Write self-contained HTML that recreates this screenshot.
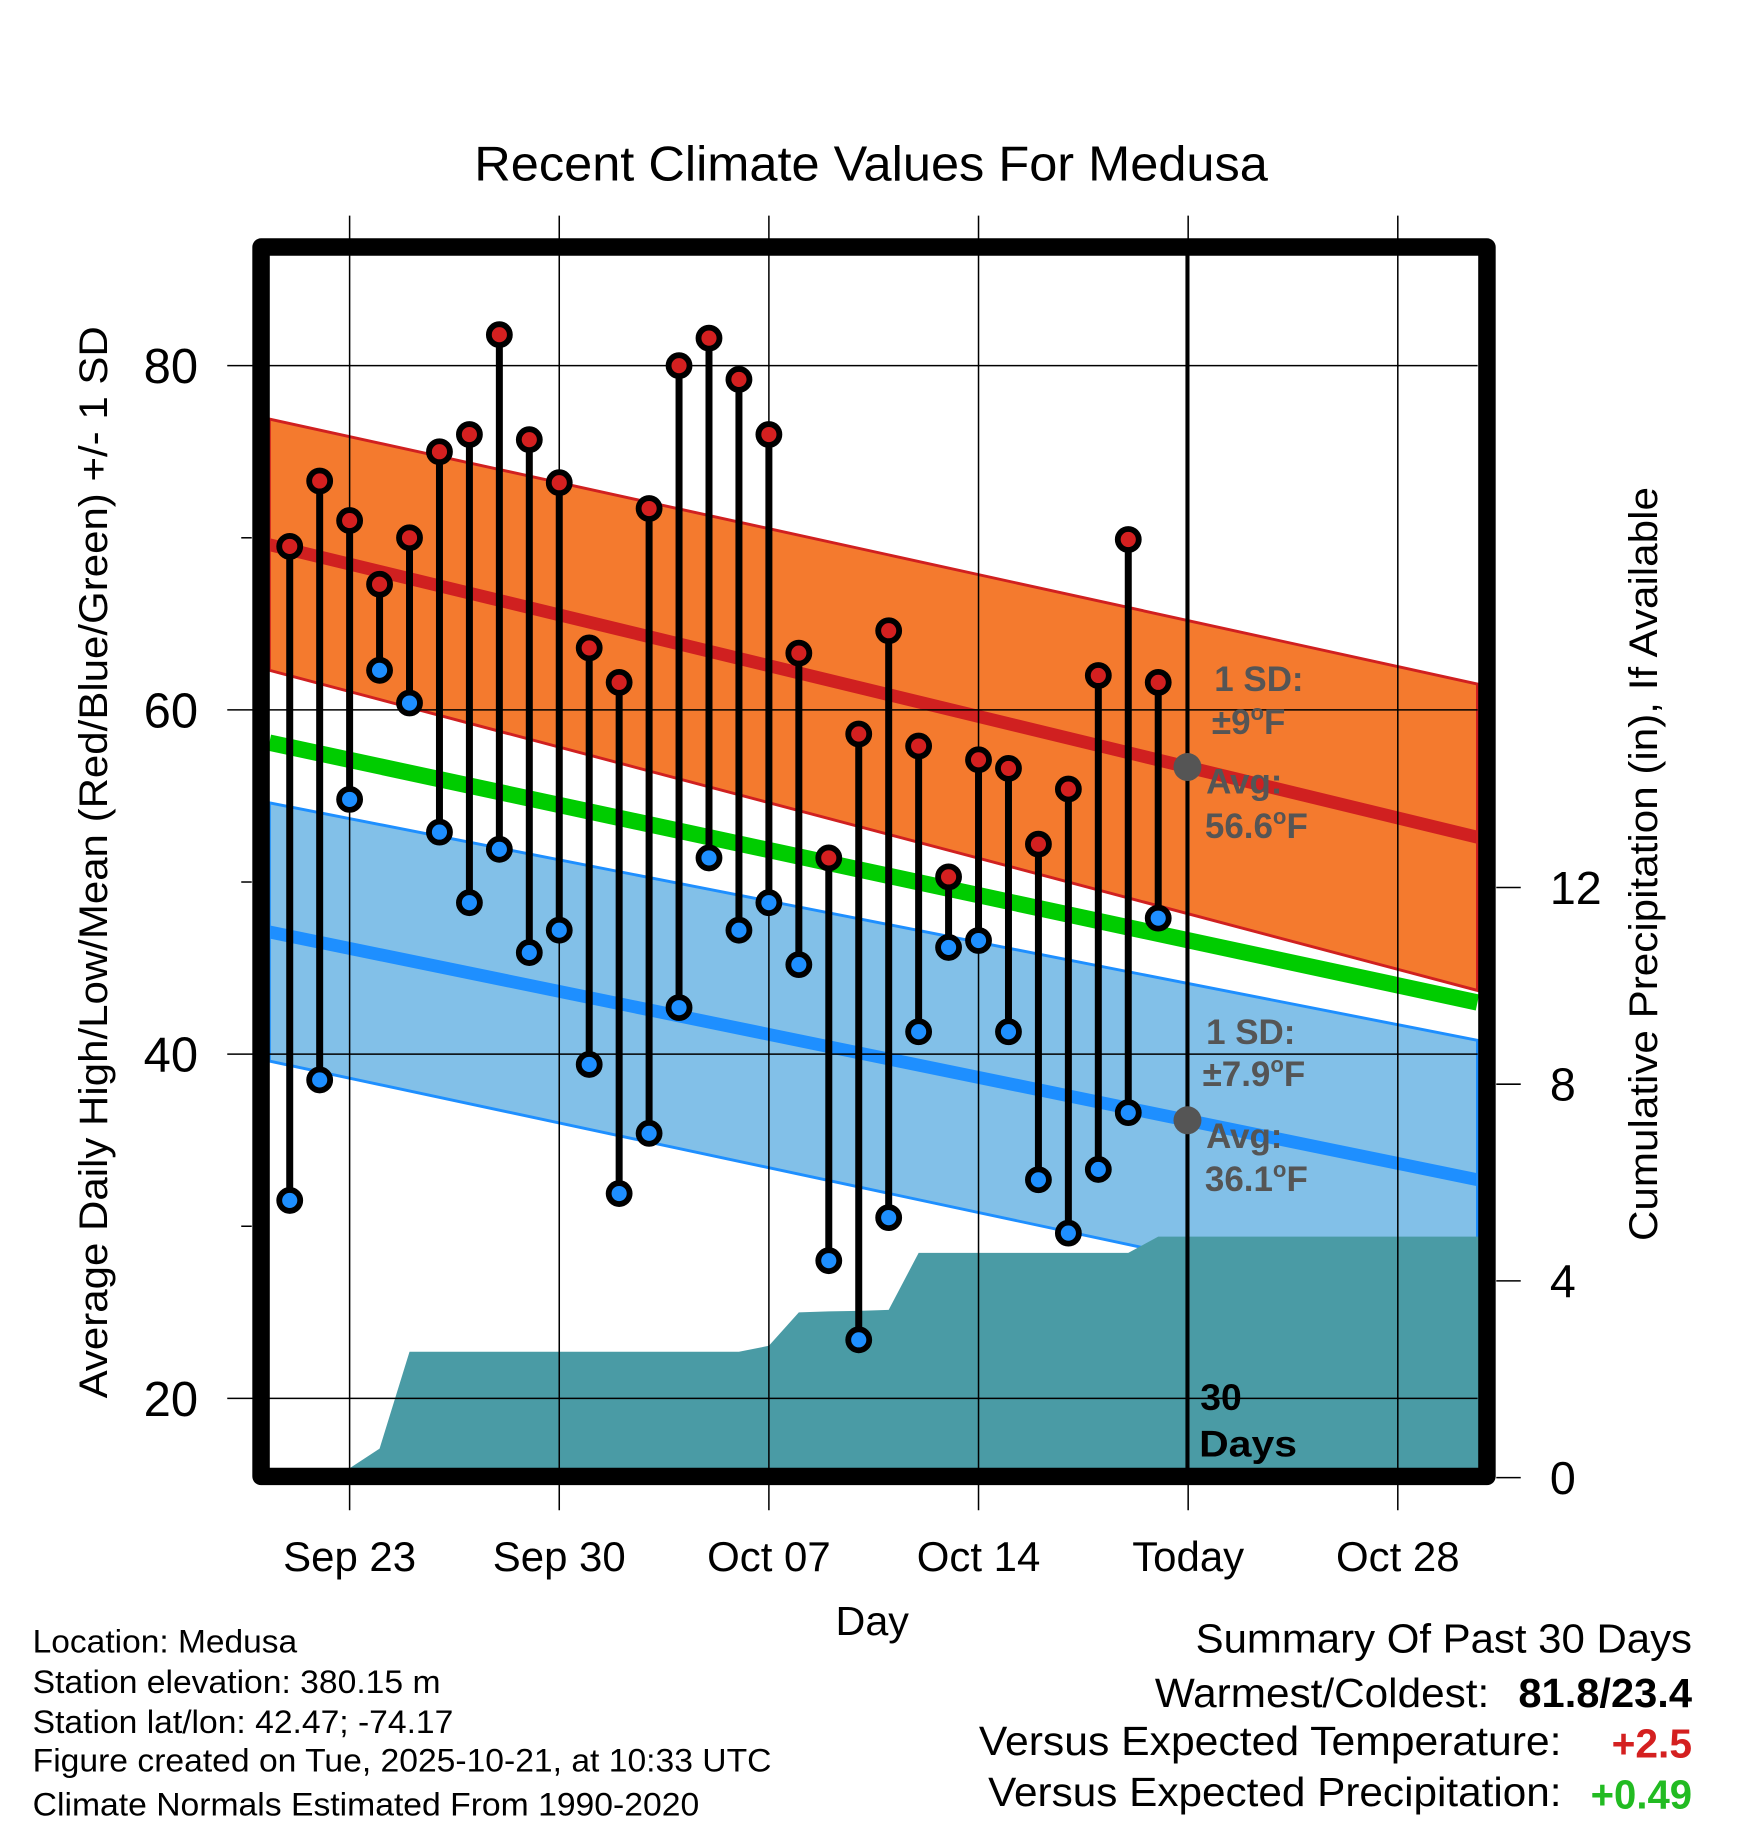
<!DOCTYPE html>
<html><head><meta charset="utf-8"><style>
html,body{margin:0;padding:0;background:#fff;}
svg{display:block;font-family:"Liberation Sans",sans-serif;}
</style></head><body>
<svg id="chart" width="1748" height="1828" viewBox="0 0 1500 1568.7" xmlns="http://www.w3.org/2000/svg">
<g id="g-bands"></g>
<g id="g-grid"></g>
<g id="g-marks"></g>
<g id="g-text"></g>
</svg>
<script>
const dayLabels = ["Sep 23","Sep 30","Oct 07","Oct 14","Today","Oct 28"];
const dayTickIdx = [2,9,16,23,30,37];
const highs = [69.5,73.3,71.0,67.3,70.0,75.0,76.0,81.8,75.7,73.2,63.6,61.6,71.7,80.0,81.6,79.2,76.0,63.3,51.4,58.6,64.6,57.9,50.3,57.1,56.6,52.2,55.4,62.0,69.9,61.6];
const lows = [31.5,38.5,54.8,62.3,60.4,52.9,48.8,51.9,45.9,47.2,39.4,31.9,35.4,42.7,51.4,47.2,48.8,45.2,28.0,23.4,30.5,41.3,46.2,46.6,41.3,32.7,29.6,33.3,36.6,47.9];
const precip = [null,null,0.19,0.59,2.56,2.56,2.56,2.56,2.56,2.56,2.56,2.56,2.56,2.56,2.56,2.56,2.68,3.36,3.38,3.39,3.41,4.57,4.57,4.57,4.57,4.57,4.57,4.57,4.57,4.9];
const normDays = [-0.68,39.66];
const normHigh = [69.6,52.6];
const sdHigh = [7.3,8.9];
const normLow = [47.1,32.7];
const sdLow = [7.5,8.1];
const normMean = [58.1,43.0];
const tempTicks = [20,40,60,80];
const minorTicks = [30,50,70];
const precipTicks = [0,4,8,12];

const NS="http://www.w3.org/2000/svg";
const L=231,R=1268,T=219,B=1260;
const x=d=>248.6+d*25.7;
const y=v=>1200-(v-20)*14.77;
const yp=p=>1268-p*42.2;
function el(tag,attrs,parent,text){const e=document.createElementNS(NS,tag);for(const k in attrs)e.setAttribute(k,attrs[k]);if(text!==undefined)e.textContent=text;document.getElementById(parent).appendChild(e);return e;}
function lerp(a,t){return a[0]+(a[1]-a[0])*t;}
const tAt=d=>(d-normDays[0])/(normDays[1]-normDays[0]);

function band(norm,sd,fill,edge,name){
  const d0=normDays[0],d1=normDays[1];
  const p=[[x(d0),y(norm[0]+sd[0])],[x(d1),y(norm[1]+sd[1])],[x(d1),y(norm[1]-sd[1])],[x(d0),y(norm[0]-sd[0])]];
  let b=el("polygon",{points:p.map(q=>q.join(",")).join(" "),fill:fill,stroke:edge,"stroke-width":2.5},"g-bands");
  
  
}
band(normHigh,sdHigh,"#f47a2e","#d02020","high-sd-band");
band(normLow,sdLow,"#82c0e8","#1e8fff","low-sd-band");

// precipitation area
let pts=[];let first=-1,lastD=0;
precip.forEach((p,i)=>{if(p!==null){if(first<0)first=i;pts.push(x(i)+","+Math.min(B,yp(p)));lastD=i;}});
pts.push((R+4)+","+yp(precip[lastD]));pts.push((R+4)+","+B);pts.push(x(first)+","+B);
let e=el("polygon",{points:pts.join(" "),fill:"#4a9ba5"},"g-bands");



function nline(norm,col,w,name){
  let l=el("line",{x1:x(normDays[0]),y1:y(norm[0]),x2:x(normDays[1]),y2:y(norm[1]),stroke:col,"stroke-width":w},"g-bands");
  
  
}
nline(normHigh,"#d02020",11,"avg-high-line");
nline(normLow,"#1e8fff",11,"avg-low-line");
nline(normMean,"#00cc00",14,"avg-mean-line");

// grid
tempTicks.forEach(v=>{
  let g=el("line",{x1:195,y1:y(v),x2:R,y2:y(v),stroke:"#000","stroke-width":1.3},"g-grid");
  
  
  let t=el("text",{x:170,y:y(v)+15,"font-size":42,"text-anchor":"end"},"g-text",String(v));
  
  
});
minorTicks.forEach(v=>{
  let g=el("line",{x1:207,y1:y(v),x2:216,y2:y(v),stroke:"#000","stroke-width":1.3},"g-grid");
  
  
});
precipTicks.forEach(p=>{
  let g=el("line",{x1:1284,y1:yp(p),x2:1305,y2:yp(p),stroke:"#000","stroke-width":1.3},"g-grid");
  
  
  let t=el("text",{x:1330,y:yp(p)+14,"font-size":40,"text-anchor":"start"},"g-text",String(p));
  
  
});
dayTickIdx.forEach((d,i)=>{
  let g=el("line",{x1:x(d),y1:185,x2:x(d),y2:1296,stroke:"#000","stroke-width":1.3},"g-grid");
  
  
  let t=el("text",{x:x(d),y:1348,"font-size":36,"text-anchor":"middle"},"g-text",dayLabels[i]);
  
  
});
let tl=el("line",{x1:1019,y1:T,x2:1019,y2:B,stroke:"#000","stroke-width":3.5},"g-grid");


let fr=el("rect",{x:224,y:212,width:1052,height:1055,fill:"none",stroke:"#000","stroke-width":15,"stroke-linejoin":"round"},"g-grid");



// marks
highs.forEach((h,i)=>{
  let s=el("line",{x1:x(i),y1:y(h),x2:x(i),y2:y(lows[i]),stroke:"#000","stroke-width":6},"g-marks");
  
  
});
highs.forEach((h,i)=>{
  let c=el("circle",{cx:x(i),cy:y(h),r:9,fill:"#d42020",stroke:"#000","stroke-width":5},"g-marks");
  
  
  let c2=el("circle",{cx:x(i),cy:y(lows[i]),r:9,fill:"#1e8fff",stroke:"#000","stroke-width":5},"g-marks");
  
  
});
const tT=tAt((1019-248.6)/25.7);
[[lerp(normHigh,tT),"avg-high-dot"],[lerp(normLow,tT),"avg-low-dot"]].forEach(a=>{
  let c=el("circle",{cx:1019,cy:y(a[0]),r:12,fill:"#555"},"g-marks");
  
  
});
</script>
<script>
(function(){
const NS="http://www.w3.org/2000/svg";
function t(x,y,s,txt,name,opts,len){const e=document.createElementNS(NS,"text");e.setAttribute("x",x);e.setAttribute("y",y);e.setAttribute("font-size",s);
 for(const k in (opts||{}))e.setAttribute(k,opts[k]);e.innerHTML=txt;
 if(len){e.setAttribute("textLength",len);e.setAttribute("lengthAdjust","spacingAndGlyphs");}
 
 
 document.getElementById("g-text").appendChild(e);}
const g={"font-weight":"bold",fill:"#555"};
t(1042,593,30,"1 SD:","high-sd-label",g);
t(1040,630,30,"±9<tspan font-size='19' dy='-12'>o</tspan><tspan dy='12'>F</tspan>","high-sd-value",g);
t(1035,681,30,"Avg:","high-avg-label",g);
t(1034,719,30,"56.6<tspan font-size='19' dy='-12'>o</tspan><tspan dy='12'>F</tspan>","high-avg-value",g);
t(1035,896,30,"1 SD:","low-sd-label",g);
t(1032,932,30,"±7.9<tspan font-size='19' dy='-12'>o</tspan><tspan dy='12'>F</tspan>","low-sd-value",g);
t(1035,985,30,"Avg:","low-avg-label",g);
t(1034,1022,30,"36.1<tspan font-size='19' dy='-12'>o</tspan><tspan dy='12'>F</tspan>","low-avg-value",g);
t(1030,1210,32,"30","days-count-label",{"font-weight":"bold"});
t(1029,1250,32,"Days","days-label",{"font-weight":"bold"},84);
t(407,155,42,"Recent Climate Values For Medusa","chart-title",{},681);
t(0,0,34,"Average Daily High/Low/Mean (Red/Blue/Green) +/- 1 SD","y-axis-title",{transform:"translate(92,1200) rotate(-90)"},920);
t(0,0,34,"Cumulative Precipitation (in), If Available","y2-axis-title",{transform:"translate(1422,1065) rotate(-90)"},647);
t(717,1403,35,"Day","x-axis-title",{},63);
const info=["Location: Medusa","Station elevation: 380.15 m","Station lat/lon: 42.47; -74.17","Figure created on Tue, 2025-10-21, at 10:33 UTC","Climate Normals Estimated From 1990-2020"];
const lens=[227,350,361,634,572];
const by=[1418,1453,1487,1520,1558];
info.forEach((s,i)=>t(28,by[i],28,s,"station-info-line",{},lens[i]));
t(1026,1418,35,"Summary Of Past 30 Days","summary-title",{},426);
t(991,1465,35,"Warmest/Coldest:","warmest-coldest-label",{},287);
t(1303,1465,35,"81.8/23.4","warmest-coldest-value",{"font-weight":"bold"},149);
t(840,1506,35,"Versus Expected Temperature:","temp-anomaly-label",{},500);
t(1383,1508,35,"+2.5","temp-anomaly-value",{"font-weight":"bold",fill:"#d42020"},69);
t(848,1550,35,"Versus Expected Precipitation:","precip-anomaly-label",{},492);
t(1365,1552,35,"+0.49","precip-anomaly-value",{"font-weight":"bold",fill:"#22bb22"},87);
})();
</script>
</body></html>
